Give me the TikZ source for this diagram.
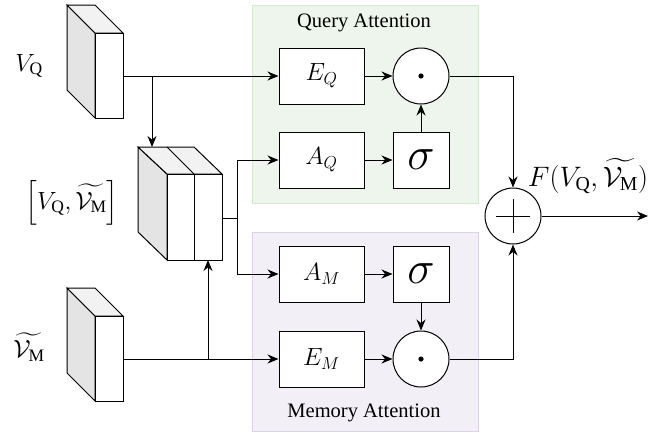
\documentclass[tikz,border=0pt]{standalone}
\usepackage{fontspec}
\setmainfont{Liberation Serif}
\usepackage{amsmath}
\usepackage{graphicx}
\usetikzlibrary{arrows.meta}

\definecolor{qfill}{RGB}{238,245,236}
\definecolor{qedge}{RGB}{214,231,210}
\definecolor{mfill}{RGB}{243,239,246}
\definecolor{medge}{RGB}{220,210,230}
\definecolor{sidegray}{RGB}{228,228,228}
\definecolor{topgray}{RGB}{242,242,242}

\newcommand{\bigsig}{\scalebox{1.85}{$\sigma$}}

\tikzset{
  wire/.style={line width=1pt},
  arr/.style={wire, -{Stealth[length=11pt,width=9pt]}},
  opbox/.style={draw, line width=1pt, fill=white, minimum width=85pt, minimum height=56pt, inner sep=0pt, font=\fontsize{25}{29}\selectfont},
  sigbox/.style={draw, line width=1pt, fill=white, minimum width=56pt, minimum height=56pt, inner sep=0pt, font=\fontsize{25}{29}\selectfont},
  opcirc/.style={draw, line width=1pt, fill=white, circle, minimum size=56pt, inner sep=0pt},
  title/.style={font=\fontsize{20.5}{24}\selectfont},
  varlabel/.style={font=\fontsize{25}{30}\selectfont},
  slab/.pic={
    \filldraw[line width=1pt, fill=sidegray] (0,0) -- (28,28) -- (28,113) -- (0,85) -- cycle;
    \filldraw[line width=1pt, fill=topgray] (0,0) -- (28,0) -- (56,28) -- (28,28) -- cycle;
    \filldraw[line width=1pt, fill=white] (28,28) rectangle (56,113);
  }
}

\begin{document}
\begin{tikzpicture}[x=1pt, y=-1pt]
\useasboundingbox (0,0) rectangle (668,434);

% attention panels
\filldraw[qedge, fill=qfill, line width=1pt] (252,5) rectangle (478,203);
\filldraw[medge, fill=mfill, line width=1pt] (252,232) rectangle (478,431);
\node[title] (qtitle) at (364,23) {Query Attention};
\node[title] (mtitle) at (364,413) {Memory Attention};

% input feature blocks
\pic at (67,5) {slab};
\pic at (67,288) {slab};

% concatenated block
\filldraw[line width=1pt, fill=sidegray] (138,147) -- (167,174) -- (167,260) -- (138,232) -- cycle;
\filldraw[line width=1pt, fill=topgray] (138,147) -- (194,147) -- (222,174) -- (167,174) -- cycle;
\draw[line width=1pt] (167,147) -- (194,174);
\filldraw[line width=1pt, fill=white] (167,174) rectangle (194,260);
\filldraw[line width=1pt, fill=white] (194,174) rectangle (222,260);

% labels
\node[varlabel] (lq) at (29,66) {$V_{\mathrm{Q}}$};
\node[varlabel] (lm) at (29,347) {$\widetilde{\mathcal{V}_{\mathrm{M}}}$};
\node[varlabel] (lcat) at (72,203) {$\left[V_{\mathrm{Q}},\widetilde{\mathcal{V}_{\mathrm{M}}}\right]$};
\node[varlabel] (lout) at (588,176) {\scalebox{1.13}{$F(V_{\mathrm{Q}},\widetilde{\mathcal{V}_{\mathrm{M}}})$}};

% operators
\node[opbox] (eq) at (321.5,76) {$E_Q$};
\node[opbox] (aq) at (321.5,160) {$A_Q$};
\node[sigbox] (sq) at (421,160) {\bigsig};
\node[opcirc] (dq) at (421,76) {};
\node[opbox] (am) at (321.5,274) {$A_M$};
\node[opbox] (em) at (321.5,359) {$E_M$};
\node[sigbox] (sm) at (421,274) {\bigsig};
\node[opcirc] (dm) at (421,359) {};
\node[opcirc] (plus) at (513,216) {};
\fill (dq.center) circle (2.6);
\fill (dm.center) circle (2.6);
\draw[line width=1pt] ([xshift=-17pt]plus.center) -- ([xshift=17pt]plus.center);
\draw[line width=1pt] ([yshift=-17pt]plus.center) -- ([yshift=17pt]plus.center);

% connection points
\coordinate (vq) at (123,76);
\coordinate (vqb) at (152,76);
\coordinate (cattop) at (152,147);
\coordinate (vm) at (123,359);
\coordinate (vmb) at (208,359);
\coordinate (catbot) at (208,260);
\coordinate (catout) at (222,218);
\coordinate (split) at (237,218);
\coordinate (out) at (648,216);

% connectors
\draw[arr] (vq) -- (eq.west);
\draw[arr] (vqb) -- (cattop);
\draw[arr] (vm) -- (em.west);
\draw[arr] (vmb) -- (catbot);
\draw[wire] (catout) -- (split);
\draw[arr] (split) |- (aq.west);
\draw[arr] (split) |- (am.west);
\draw[arr] (eq) -- (dq);
\draw[arr] (aq) -- (sq);
\draw[arr] (sq) -- (dq);
\draw[arr] (am) -- (sm);
\draw[arr] (sm) -- (dm);
\draw[arr] (em) -- (dm);
\draw[arr] (dq.east) -| (plus.north);
\draw[arr] (dm.east) -| (plus.south);
\draw[arr] (plus.east) -- (out);
\end{tikzpicture}
\end{document}
